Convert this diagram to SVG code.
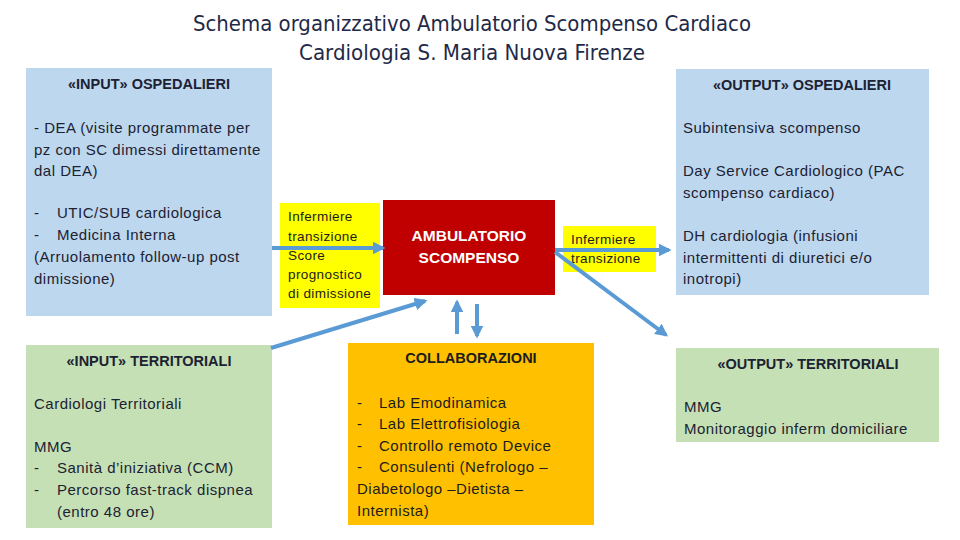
<svg xmlns="http://www.w3.org/2000/svg" width="960" height="540" viewBox="0 0 960 540">
<defs>
<style>
.t{font-family:"Liberation Sans Narrow","DejaVu Sans Condensed","Liberation Sans",sans-serif;font-size:21px;fill:#1f2a48}
.tx{font-family:"Liberation Sans",Arial,sans-serif;font-size:15px;letter-spacing:0.5px;fill:#1c2233}
.h{font-family:"Liberation Sans",Arial,sans-serif;font-size:14.5px;font-weight:bold;fill:#1c2233;text-anchor:middle}
.sm{font-family:"Liberation Sans",Arial,sans-serif;font-size:13.5px;letter-spacing:0.4px;fill:#1c1c1c}
.w{font-family:"Liberation Sans",Arial,sans-serif;font-size:15.5px;font-weight:bold;fill:#ffffff;text-anchor:middle}
.blue{fill:#bdd7ee}
.green{fill:#c5e0b4}
.arr{stroke:#5b9bd5;stroke-width:4;fill:none;marker-end:url(#ah)}
</style>
<marker id="ah" viewBox="0 0 10 10" refX="8" refY="5" markerWidth="3.2" markerHeight="3.2" orient="auto" markerUnits="strokeWidth">
<path d="M0,0 L10,5 L0,10 z" fill="#5b9bd5"/>
</marker>
</defs>
<rect width="960" height="540" fill="#ffffff"/>
<g id="title">
<text class="t" x="472" y="31" text-anchor="middle" textLength="558" lengthAdjust="spacingAndGlyphs">Schema organizzativo Ambulatorio Scompenso Cardiaco</text>
<text class="t" x="472" y="60" text-anchor="middle" textLength="346" lengthAdjust="spacingAndGlyphs">Cardiologia S. Maria Nuova Firenze</text>
</g>
<g id="input-ospedalieri">
<rect class="blue" x="26" y="68" width="246" height="248"/>
<text class="h" x="149" y="89">«INPUT» OSPEDALIERI</text>
<text class="tx" x="34" y="133">- DEA (visite programmate per</text>
<text class="tx" x="34" y="155">pz con SC dimessi direttamente</text>
<text class="tx" x="34" y="176">dal DEA)</text>
<text class="tx" x="34" y="218">-<tspan x="57">UTIC/SUB cardiologica</tspan></text>
<text class="tx" x="34" y="240">-<tspan x="57">Medicina Interna</tspan></text>
<text class="tx" x="34" y="262">(Arruolamento follow-up post</text>
<text class="tx" x="34" y="284">dimissione)</text>
</g>
<g id="output-ospedalieri">
<rect class="blue" x="676" y="69" width="253" height="226"/>
<text class="h" x="802" y="90">«OUTPUT» OSPEDALIERI</text>
<text class="tx" x="683" y="133">Subintensiva scompenso</text>
<text class="tx" x="683" y="176">Day Service Cardiologico (PAC</text>
<text class="tx" x="683" y="198">scompenso cardiaco)</text>
<text class="tx" x="683" y="241">DH cardiologia (infusioni</text>
<text class="tx" x="683" y="263">intermittenti di diuretici e/o</text>
<text class="tx" x="683" y="284">inotropi)</text>
</g>
<g id="infermiere-1">
<rect x="280" y="203" width="100" height="105" fill="#ffff00"/>
<text class="sm" x="288" y="221">Infermiere</text>
<text class="sm" x="288" y="241">transizione</text>
<text class="sm" x="288" y="260">Score</text>
<text class="sm" x="288" y="279">prognostico</text>
<text class="sm" x="288" y="298">di dimissione</text>
</g>
<g id="ambulatorio">
<rect x="383" y="200" width="172" height="95" fill="#c00000"/>
<text class="w" x="469" y="241">AMBULATORIO</text>
<text class="w" x="469" y="263">SCOMPENSO</text>
</g>
<g id="infermiere-2">
<rect x="563" y="226" width="93" height="46" fill="#ffff00"/>
<text class="sm" x="571" y="244">Infermiere</text>
<text class="sm" x="571" y="263">transizione</text>
</g>
<g id="input-territoriali">
<rect class="green" x="26" y="345" width="246" height="183"/>
<text class="h" x="149" y="366">«INPUT» TERRITORIALI</text>
<text class="tx" x="34" y="409">Cardiologi Territoriali</text>
<text class="tx" x="34" y="452">MMG</text>
<text class="tx" x="34" y="473">-<tspan x="57">Sanità d’iniziativa (CCM)</tspan></text>
<text class="tx" x="34" y="495">-<tspan x="57">Percorso fast-track dispnea</tspan></text>
<text class="tx" x="57" y="517">(entro 48 ore)</text>
</g>
<g id="collaborazioni">
<rect x="348" y="343" width="246" height="182" fill="#ffc000"/>
<text class="h" x="471" y="363" style="fill:#1c1c1c">COLLABORAZIONI</text>
<text class="tx" x="357" y="408" style="fill:#1c1c1c">-<tspan x="379">Lab Emodinamica</tspan></text>
<text class="tx" x="357" y="429" style="fill:#1c1c1c">-<tspan x="379">Lab Elettrofisiologia</tspan></text>
<text class="tx" x="357" y="451" style="fill:#1c1c1c">-<tspan x="379">Controllo remoto Device</tspan></text>
<text class="tx" x="357" y="472" style="fill:#1c1c1c">-<tspan x="379">Consulenti (Nefrologo –</tspan></text>
<text class="tx" x="357" y="494" style="fill:#1c1c1c">Diabetologo –Dietista –</text>
<text class="tx" x="357" y="516" style="fill:#1c1c1c">Internista)</text>
</g>
<g id="output-territoriali">
<rect class="green" x="676" y="348" width="263" height="94"/>
<text class="h" x="808" y="369">«OUTPUT» TERRITORIALI</text>
<text class="tx" x="684" y="412">MMG</text>
<text class="tx" x="684" y="434">Monitoraggio inferm domiciliare</text>
</g>
<g id="connectors">
<line class="arr" x1="272" y1="248" x2="383" y2="248"/>
<line class="arr" x1="271" y1="348" x2="425" y2="301"/>
<line class="arr" x1="457" y1="334" x2="457" y2="302"/>
<line class="arr" x1="477" y1="304" x2="477" y2="336"/>
<line class="arr" x1="555" y1="250" x2="669" y2="250"/>
<line class="arr" x1="555" y1="252" x2="666" y2="335"/>
</g>
</svg>
